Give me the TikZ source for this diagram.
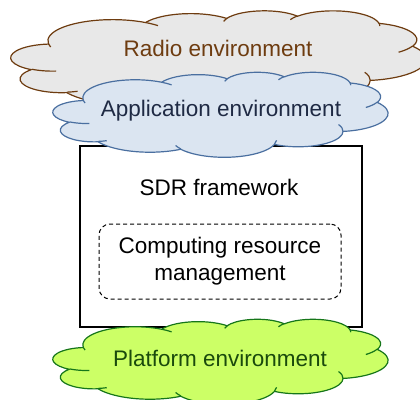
\documentclass[tikz,border=0pt]{standalone}
\usepackage{fontspec}
\setmainfont{Liberation Sans}
\definecolor{radioline}{HTML}{6E3C10}
\definecolor{radiofill}{HTML}{E8E8E8}
\definecolor{appline}{HTML}{4A6FA0}
\definecolor{appfill}{HTML}{DBE5F1}
\definecolor{apptext}{HTML}{1F2A44}
\definecolor{platline}{HTML}{16761A}
\definecolor{platfill}{HTML}{CCFF66}
\definecolor{plattext}{HTML}{1A4A0C}
% Cloud outline in a 100 x 100 box (y pointing down)
\newcommand\cloudpath{%
  (9.028,33.264)
  arc[x radius=15.632, y radius=21.273, start angle=172.255, end angle=300.37]
  arc[x radius=12.345, y radius=16.822, start angle=-152.03, end angle=-45.46]
  arc[x radius=10.104, y radius=13.762, start angle=-153.50, end angle=-37.32]
  arc[x radius=11.243, y radius=15.266, start angle=-139.71, end angle=-10.21]
  arc[x radius=12.345, y radius=16.836, start angle=-74.77, end angle=23.21]
  arc[x radius=15.683, y radius=21.343, start angle=-37.50, end angle=81.86]
  arc[x radius=13.391, y radius=18.211, start angle=0.46, end angle=121.97]
  arc[x radius=15.630, y radius=21.331, start angle=16.84, end angle=146.22]
  arc[x radius=17.870, y radius=24.405, start angle=58.98, end angle=150.19]
  arc[x radius=10.093, y radius=13.699, start angle=83.31, end angle=223.10]
  arc[x radius=10.058, y radius=13.762, start angle=120.36, end angle=264.11]
  -- cycle}
% Short inner strokes where the puffs overlap
\newcommand\cloudcreases{%
  (10.863,60.595) arc[x radius=10.058, y radius=13.762, start angle=85.55, end angle=120.36]
  (16.037,80.785) arc[x radius=10.093, y radius=13.699, start angle=68.24, end angle=83.31]
  (38.144,90.486) arc[x radius=15.630, y radius=21.331, start angle=146.22, end angle=158.47]
  (66.729,80.442) arc[x radius=15.630, y radius=21.331, start angle=4.737, end angle=16.84]
  (85.228,61.782) arc[x radius=13.391, y radius=18.211, start angle=-26, end angle=0.46]
  (96.755,35.542) arc[x radius=12.345, y radius=16.836, start angle=23.21, end angle=49.65]
  (88.713,12.560) arc[x radius=11.243, y radius=15.266, start angle=-10.21, end angle=0.82]
  (67.310,9.148) arc[x radius=11.243, y radius=15.266, start angle=-156.27, end angle=-139.71]
  (51.252,10.926) arc[x radius=10.104, y radius=13.762, start angle=-167.73, end angle=-153.50]
  (32.407,12.019) arc[x radius=15.632, y radius=21.273, start angle=-59.63, end angle=-45.74]
  (9.553,36.549) arc[x radius=15.632, y radius=21.273, start angle=163.19, end angle=172.255]}
% \envcloud{left}{top}{width/100}{height/100}{line colour}{fill colour}
\newcommand\envcloud[6]{%
  \begin{scope}[shift={(#1,#2)}, x=#3pt, y=-#4pt, line width=1.2pt, line join=round]
    \fill[#6] \cloudpath;
    \draw[#5] \cloudpath;
    \draw[#5] \cloudcreases;
  \end{scope}}
\tikzset{
  label/.style={font=\fontsize{22.5}{27}\selectfont, align=center, inner sep=0pt},
  frame/.style={draw=black, line width=1.2pt, fill=white, inner sep=0pt},
  subframe/.style={draw=black, line width=1pt, dash pattern=on 4pt off 3pt,
    rounded corners=11pt, inner sep=0pt},
}
\begin{document}
\begin{tikzpicture}[x=1pt, y=-1pt]
  \useasboundingbox (0,0) rectangle (420,399);
  % radio environment
  \envcloud{11}{10.5}{4.15}{1.0}{radioline}{radiofill}
  \node[label, text=radioline] (radio) at (218,48) {Radio environment};
  % SDR framework
  \node[frame, minimum width=282pt, minimum height=181pt] (sdr) at (221,236.5) {};
  \node[label] (sdrtxt) at (219,187) {SDR framework};
  \node[subframe, minimum width=242pt, minimum height=75pt] (crm) at (220,261.5) {};
  \node[label] (crmtxt) at (220,261.5) {Computing resource\\management};
  % application environment
  \envcloud{53}{72}{3.35}{0.85}{appline}{appfill}
  \node[label, text=apptext] (app) at (221,111) {Application environment};
  % platform environment
  \envcloud{53}{319}{3.35}{0.85}{platline}{platfill}
  \node[label, text=plattext] (plat) at (220,358) {Platform environment};
\end{tikzpicture}
\end{document}
